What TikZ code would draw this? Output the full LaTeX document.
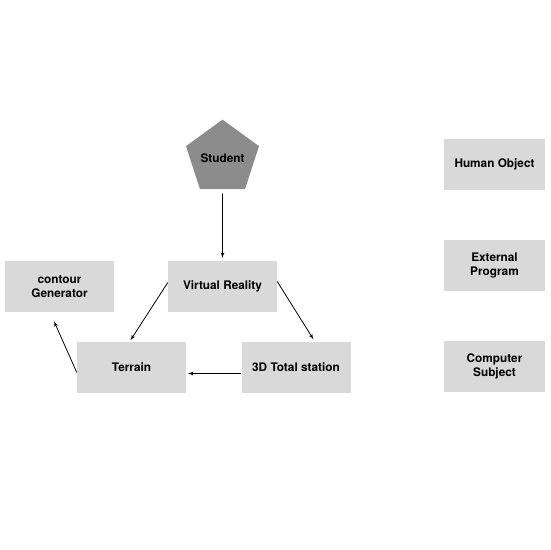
\documentclass[tikz,border=0pt]{standalone}
\usepackage{fontspec}
\setmainfont{TeX Gyre Heros}
\usetikzlibrary{shapes.geometric, arrows, positioning}

\definecolor{boxgray}{HTML}{D9D9D9}
\definecolor{pentgray}{HTML}{8C8C8C}

\begin{document}
\begin{tikzpicture}[
        x=1pt, y=1pt,
        font=\bfseries\fontsize{11.8}{14}\selectfont,
        block/.style={rectangle, fill=boxgray, minimum width=109pt, minimum height=51pt, align=center, inner sep=2pt},
        sideblock/.style={block, minimum width=101pt},
        pupil/.style={regular polygon, regular polygon sides=5, fill=pentgray, minimum size=74pt, inner sep=0pt},
        line/.style={draw, -latex', line width=0.8pt}
    ]
        \useasboundingbox (0,0) rectangle (550,550);

        % Main chain
        \node [block] (vr) at (222.5,263.5) {Virtual Reality};
        \node [pupil, above of=vr, node distance=128.5pt] (student) {Student};
        \node [block, left of=vr, node distance=163pt] (contour) {contour\\Generator};
        \node [block] (terrain) at (131.5,182.5) {Terrain};
        \node [block, right of=terrain, node distance=164.5pt] (station) {3D Total station};

        % Column on the right
        \node [sideblock] (human) at (494.5,385.5) {Human Object};
        \node [sideblock, below of=human, node distance=101pt] (program) {External\\Program};
        \node [sideblock, below of=program, node distance=101pt] (computer) {Computer\\Subject};

        % Edges
        \path [line, shorten <=4pt, shorten >=3pt] (student) -- (vr);
        \path [line, shorten >=2pt] ([yshift=4pt]vr.west) -- ([xshift=-2pt]terrain.north);
        \path [line, shorten >=3pt] ([yshift=5pt]vr.east) -- ([xshift=19pt]station.north);
        \path [line, shorten >=2pt] ([yshift=-6pt]station.west) -- ([yshift=-6pt]terrain.east);
        \path [line, shorten >=10pt] ([yshift=-5pt]terrain.west) -- ([xshift=-9.5pt]contour.south);
    \end{tikzpicture}
\end{document}
